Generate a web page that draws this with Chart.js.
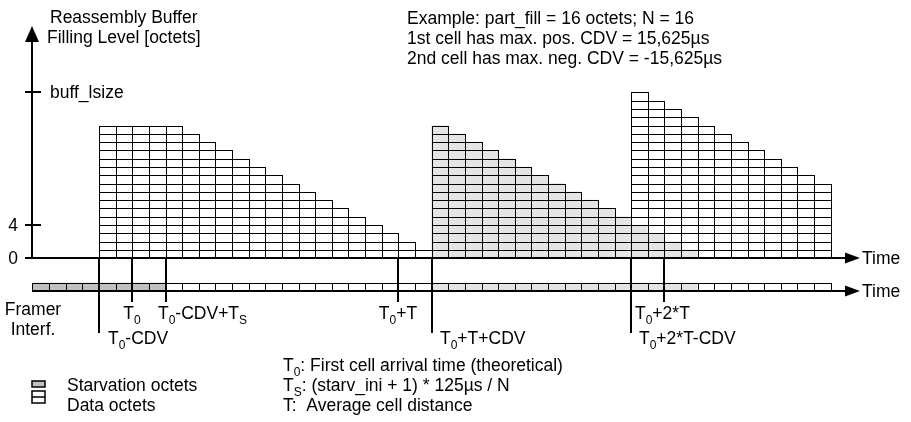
<!DOCTYPE html>
<html>
<head>
<meta charset="utf-8">
<script src="https://cdn.jsdelivr.net/npm/chart.js@4"></script>
<style>
  html, body { margin: 0; padding: 0; background: #fff; }
  #wrap { width: 911px; height: 422px; }
</style>
</head>
<body>
<div id="wrap"><canvas id="buffer"></canvas></div>
<script>
// one column = one octet slot on the framer interface
const columns = [-4, -3, -2, -1, 0, 1, 2, 3, 4, 5, 6, 7, 8, 9, 10, 11, 12, 13, 14, 15, 16, 17, 18, 19,
  20, 21, 22, 23, 24, 25, 26, 27, 28, 29, 30, 31, 32, 33, 34, 35, 36, 37, 38, 39, 40, 41, 42, 43, 44, 45];

// buffer content per column (octets), white = data of 1st/3rd cell, gray = data of 2nd cell
const whiteOctets = [0, 0, 0, 0, 16, 16, 16, 16, 16, 15, 14, 13, 12, 11, 10, 9, 8, 7, 6, 5, 4, 3, 2, 1,
  0, 0, 0, 0, 0, 0, 0, 0, 0, 0, 0, 0, 16, 16, 16, 16, 16, 15, 14, 13, 12, 11, 10, 9, 0, 0];
const grayOctets = [0, 0, 0, 0, 0, 0, 0, 0, 0, 0, 0, 0, 0, 0, 0, 0, 0, 0, 0, 0, 0, 0, 0, 0,
  16, 15, 14, 13, 12, 11, 10, 9, 8, 7, 6, 5, 4, 3, 2, 1, 0, 0, 0, 0, 0, 0, 0, 0, 0, 0];

// octet sent on the framer interface: S = starvation, W = white cell data, G = gray cell data
const framerOctets = ['S', 'S', 'S', 'S', 'S', 'S', 'S', 'S', 'W', 'W', 'W', 'W', 'W', 'W', 'W', 'W',
  'W', 'W', 'W', 'W', 'W', 'W', 'W', 'W', 'G', 'G', 'G', 'G', 'G', 'G', 'G', 'G', 'G', 'G', 'G', 'G',
  'G', 'G', 'G', 'G', 'W', 'W', 'W', 'W', 'W', 'W', 'W', 'W', '', ''];

// time marks (~ = next char is subscript)
const markerLabels = ['T~0-CDV', 'T~0', 'T~0-CDV+T~S', 'T~0+T', 'T~0+T+CDV', 'T~0+2*T-CDV', 'T~0+2*T'];
const markerColumns = [0, 2, 4, 18, 20, 32, 34];

const yTickValues = [0, 4, 20];
const yTickLabels = ['0', '4', 'buff_lsize'];

const titleLines = ['Reassembly Buffer', 'Filling Level [octets]'];
const exampleLines = ['Example: part_fill = 16 octets; N = 16', '1st cell has max. pos. CDV = 15,625µs',
  '2nd cell has max. neg. CDV = -15,625µs'];
const noteLines = ['T~0: First cell arrival time (theoretical)', 'T~S: (starv_ini + 1) * 125µs / N',
  'T:  Average cell distance'];
const legendLabels = ['Starvation octets', 'Data octets'];

const WHITE = '#ffffff';
const GRAY = '#e4e4e4';
const STARV = '#c0c0c0';
const FONT = '"Liberation Sans", Arial, sans-serif';
const FS = 17.5;

// one floating-bar dataset per octet row so that every octet is its own cell
const datasets = [];
const maxLevel = Math.max(...columns.map((c, i) => whiteOctets[i] + grayOctets[i]));
for (let k = 0; k < maxLevel; k++) {
  datasets.push({
    data: columns.map((c, i) => k < whiteOctets[i] + grayOctets[i] ? [k, k + 1] : null),
    backgroundColor: columns.map((c, i) => k < grayOctets[i] ? GRAY : WHITE),
  });
}
datasets.push({
  data: framerOctets.map(o => o ? [-4, -3] : null),
  backgroundColor: framerOctets.map(o => o === 'S' ? STARV : o === 'G' ? GRAY : WHITE),
});

function richText(ctx, str, x, y, align) {
  const parts = [];
  for (let i = 0; i < str.length; i++) {
    if (str[i] === '~') { parts.push([str[i + 1], true]); i++; }
    else if (parts.length && !parts[parts.length - 1][1]) parts[parts.length - 1][0] += str[i];
    else parts.push([str[i], false]);
  }
  const big = FS + 'px ' + FONT, small = Math.round(FS * 0.7) + 'px ' + FONT;
  let w = 0;
  parts.forEach(p => { ctx.font = p[1] ? small : big; w += ctx.measureText(p[0]).width; });
  let cx = align === 'center' ? x - w / 2 : x;
  ctx.textAlign = 'left';
  parts.forEach(p => {
    ctx.font = p[1] ? small : big;
    ctx.fillText(p[0], cx, p[1] ? y + 5 : y);
    cx += ctx.measureText(p[0]).width;
  });
}

function arrow(ctx, x1, y1, x2, y2, head, half) {
  const a = Math.atan2(y2 - y1, x2 - x1);
  const bx = x2 - head * Math.cos(a), by = y2 - head * Math.sin(a);
  ctx.beginPath();
  ctx.moveTo(x1, y1);
  ctx.lineTo(bx, by);
  ctx.stroke();
  ctx.beginPath();
  ctx.moveTo(x2, y2);
  ctx.lineTo(bx - half * Math.sin(a), by + half * Math.cos(a));
  ctx.lineTo(bx + half * Math.sin(a), by - half * Math.cos(a));
  ctx.closePath();
  ctx.fill();
}

const diagram = {
  id: 'diagram',
  afterDatasetsDraw(chart) {
    const ctx = chart.ctx;
    const snap = v => Math.round(v) + 0.5;
    ctx.save();
    ctx.strokeStyle = '#000';
    ctx.lineWidth = 1;
    chart.data.datasets.forEach((ds, i) => {
      chart.getDatasetMeta(i).data.forEach((bar, j) => {
        if (ds.data[j] == null) return;
        const p = bar.getProps(['x', 'y', 'base', 'width'], true);
        const l = snap(p.x - p.width / 2), r = snap(p.x + p.width / 2);
        const t = snap(Math.min(p.y, p.base)), b = snap(Math.max(p.y, p.base));
        ctx.strokeRect(l, t, r - l, b - t);
      });
    });
    ctx.restore();
  },
  afterDraw(chart) {
    const ctx = chart.ctx;
    const xs = chart.scales.x, ys = chart.scales.y;
    const area = chart.chartArea;
    const colW = xs.getPixelForValue(1) - xs.getPixelForValue(0);
    const colLeft = c => Math.round(xs.getPixelForValue(columns.indexOf(c)) - colW / 2);
    const y0 = Math.round(ys.getPixelForValue(0));
    const yStrip = Math.round(ys.getPixelForValue(-4));
    const ax = Math.round(area.left);
    const tip = area.right - 4;

    ctx.save();
    ctx.strokeStyle = '#000';
    ctx.fillStyle = '#000';
    ctx.lineWidth = 2;
    // axes
    arrow(ctx, 25, y0, tip, y0, 15, 5.5);
    arrow(ctx, ax, yStrip, tip, yStrip, 15, 5.5);
    arrow(ctx, ax, y0 + 1, ax, area.top, 16, 7);

    // y ticks
    ctx.textBaseline = 'middle';
    yTickValues.forEach((v, i) => {
      const y = Math.round(ys.getPixelForValue(v));
      ctx.beginPath();
      ctx.moveTo(25, y);
      ctx.lineTo(v === 0 ? ax : ax + 9, y);
      ctx.stroke();
      ctx.font = FS + 'px ' + FONT;
      if (v === 20) { ctx.textAlign = 'left'; ctx.fillText(yTickLabels[i], 50, y + 1); }
      else { ctx.textAlign = 'right'; ctx.fillText(yTickLabels[i], 18, y + 1); }
    });

    // time marks
    const longMark = [true, false, false, false, true, true, false];
    const labelDx = [9, 0, -8, 0, 8, 8, -29];
    ctx.textBaseline = 'alphabetic';
    markerColumns.forEach((c, i) => {
      const x = colLeft(c);
      ctx.lineWidth = 2;
      ctx.beginPath();
      ctx.moveTo(x, y0);
      ctx.lineTo(x, longMark[i] ? 333 : 302);
      ctx.stroke();
      const ty = longMark[i] ? 344 : 319;
      if (labelDx[i] === 0) richText(ctx, markerLabels[i], x, ty, 'center');
      else richText(ctx, markerLabels[i], x + labelDx[i], ty, 'left');
    });

    // texts
    ctx.font = FS + 'px ' + FONT;
    ctx.textAlign = 'left';
    ctx.fillText(titleLines[0], 50, 23);
    ctx.fillText(titleLines[1], 47, 43);
    exampleLines.forEach((t, i) => ctx.fillText(t, 407, 24 + i * 20));
    noteLines.forEach((t, i) => richText(ctx, t, 283, 371 + i * 20, 'left'));
    ctx.font = FS + 'px ' + FONT;
    ctx.textAlign = 'center';
    ctx.fillText('Framer', 33, 315);
    ctx.fillText('Interf.', 33, 335);
    ctx.textAlign = 'left';
    ctx.fillText('Time', 862, y0 + 6);
    ctx.fillText('Time', 862, yStrip + 6);

    // legend
    ctx.lineWidth = 1.5;
    ctx.fillStyle = STARV;
    ctx.fillRect(32, 381, 13, 6);
    ctx.strokeRect(32, 381, 13, 6);
    ctx.fillStyle = WHITE;
    ctx.fillRect(32, 391, 13, 12);
    ctx.strokeRect(32, 391, 13, 12);
    ctx.beginPath();
    ctx.moveTo(32, 397);
    ctx.lineTo(45, 397);
    ctx.stroke();
    ctx.fillStyle = '#000';
    ctx.font = FS + 'px ' + FONT;
    legendLabels.forEach((t, i) => ctx.fillText(t, 67, 391 + i * 20));
    ctx.restore();
  }
};

new Chart(document.getElementById('buffer'), {
  type: 'bar',
  data: { labels: columns.map(String), datasets: datasets },
  options: {
    responsive: true,
    maintainAspectRatio: false,
    animation: false,
    events: [],
    layout: { padding: { left: 32.48, right: 47, top: 26.1, bottom: 2.1 } },
    datasets: {
      bar: { grouped: false, barPercentage: 1, categoryPercentage: 1, borderWidth: 0 }
    },
    plugins: { legend: { display: false }, tooltip: { enabled: false } },
    scales: {
      x: { type: 'category', display: false, offset: true },
      y: { type: 'linear', display: false, min: -19.5, max: 28 }
    }
  },
  plugins: [diagram]
});
</script>
</body>
</html>
